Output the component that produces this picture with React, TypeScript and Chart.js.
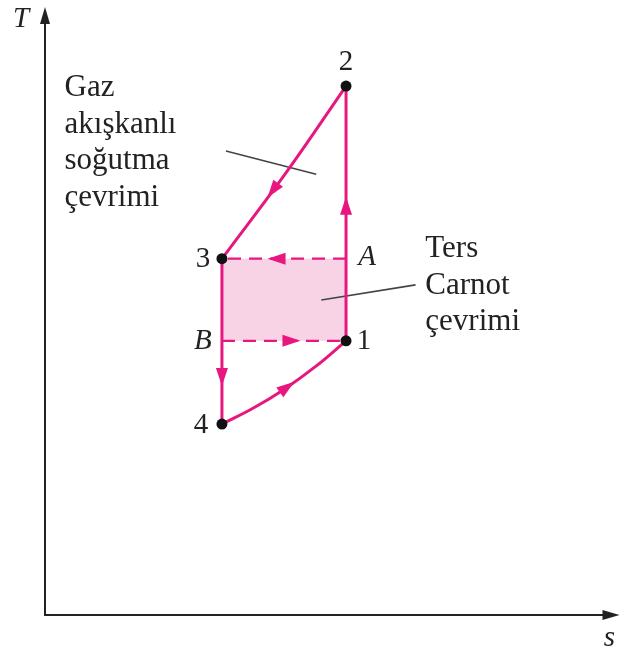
import React, { useEffect, useRef } from "react";
import { Chart, registerables } from "chart.js";

Chart.register(...registerables);

// ---- data (s: entropy, T: temperature, arbitrary units) ----
const stateLabels = ["1", "2", "3", "4"];
const stateS = [5.24, 5.24, 3.08, 3.08];
const stateT = [4.51, 8.7, 5.86, 3.14];

const cornerLabels = ["A", "B"];
const cornerS = [5.24, 3.08];
const cornerT = [5.86, 4.51];

// process 2 -> 3 (heat rejection, nearly straight)
const curve23S = [5.24, 4.2, 3.08];
const curve23T = [8.7, 7.28, 5.86];
// process 4 -> 1 (heat absorption, curved)
const curve41S = [3.08, 3.62, 4.16, 4.7, 5.24];
const curve41T = [3.14, 3.4, 3.71, 4.08, 4.51];

// arrow position along each process (fraction of path)
const arrowFractions = { p12: 0.53, p23: 0.6, p34: 0.715, p41: 0.5, pA3: 0.56, pB1: 0.56 };

// annotation texts
const gasText = ["Gaz", "akışkanlı", "soğutma", "çevrimi"];
const gasTextS = 0.34;
const gasTextT = 8.53;
const carnotText = ["Ters", "Carnot", "çevrimi"];
const carnotTextS = 6.62;
const carnotTextT = 5.88;

// leader lines
const gasLeaderS = [3.15, 4.72];
const gasLeaderT = [7.63, 7.25];
const carnotLeaderS = [4.81, 6.45];
const carnotLeaderT = [5.18, 5.43];

const MAG = "#e8177f";
const PINK = "#f8d3e5";
const INK = "#222222";
const SERIF = "'Liberation Serif', 'DejaVu Serif', serif";

const zip = (xs: number[], ys: number[]) => xs.map((x, i) => ({ x, y: ys[i] }));

const arrowPlugin = {
  id: "arrows",
  afterDatasetsDraw(chart: any) {
    const ctx = chart.ctx;
    chart.data.datasets.forEach((ds: any, i: number) => {
      if (ds.arrowAt == null) return;
      const meta = chart.getDatasetMeta(i);
      const pts = meta.data.map((e: any) => ({ x: e.x, y: e.y }));
      let total = 0;
      const lens: number[] = [];
      for (let k = 1; k < pts.length; k++) {
        const l = Math.hypot(pts[k].x - pts[k - 1].x, pts[k].y - pts[k - 1].y);
        lens.push(l);
        total += l;
      }
      let target = total * ds.arrowAt;
      let k = 0;
      while (k < lens.length - 1 && target > lens[k]) {
        target -= lens[k];
        k++;
      }
      const a = pts[k], b = pts[k + 1];
      const f = lens[k] ? target / lens[k] : 0;
      const px = a.x + (b.x - a.x) * f;
      const py = a.y + (b.y - a.y) * f;
      const dx = (b.x - a.x) / (lens[k] || 1);
      const dy = (b.y - a.y) / (lens[k] || 1);
      const L = 18, W = 12;
      ctx.save();
      ctx.fillStyle = MAG;
      ctx.beginPath();
      ctx.moveTo(px + dx * L / 2, py + dy * L / 2);
      ctx.lineTo(px - dx * L / 2 - dy * W / 2, py - dy * L / 2 + dx * W / 2);
      ctx.lineTo(px - dx * L / 2 + dy * W / 2, py - dy * L / 2 - dx * W / 2);
      ctx.closePath();
      ctx.fill();
      ctx.restore();
    });
  },
};

const axesPlugin = {
  id: "axesDraw",
  afterDatasetsDraw(chart: any) {
    const ctx = chart.ctx;
    const xs = chart.scales.x, ys = chart.scales.y;
    const x0 = xs.getPixelForValue(xs.min);
    const x1 = xs.getPixelForValue(xs.max);
    const y0 = ys.getPixelForValue(ys.min);
    const y1 = ys.getPixelForValue(ys.max);
    ctx.save();
    ctx.strokeStyle = INK;
    ctx.fillStyle = INK;
    ctx.lineWidth = 2;
    ctx.beginPath();
    ctx.moveTo(x0, y1 + 12);
    ctx.lineTo(x0, y0);
    ctx.lineTo(x1 - 12, y0);
    ctx.stroke();
    // arrow heads
    ctx.beginPath();
    ctx.moveTo(x0, y1);
    ctx.lineTo(x0 - 5, y1 + 17);
    ctx.lineTo(x0 + 5, y1 + 17);
    ctx.closePath();
    ctx.fill();
    ctx.beginPath();
    ctx.moveTo(x1, y0);
    ctx.lineTo(x1 - 17, y0 - 5);
    ctx.lineTo(x1 - 17, y0 + 5);
    ctx.closePath();
    ctx.fill();
    // axis titles
    ctx.font = `italic 29px ${SERIF}`;
    ctx.textAlign = "center";
    ctx.textBaseline = "middle";
    ctx.fillText("T", x0 - 24, y1 + 12);
    ctx.fillText("s", x1 - 10, y0 + 23);
    ctx.restore();
  },
};

const textPlugin = {
  id: "texts",
  afterDatasetsDraw(chart: any) {
    const ctx = chart.ctx;
    const xs = chart.scales.x, ys = chart.scales.y;
    ctx.save();
    ctx.fillStyle = INK;
    ctx.textBaseline = "alphabetic";
    ctx.textAlign = "left";
    ctx.font = `31px ${SERIF}`;
    const lh = 36.5;
    gasText.forEach((t, i) => {
      ctx.fillText(t, xs.getPixelForValue(gasTextS), ys.getPixelForValue(gasTextT) + i * lh);
    });
    carnotText.forEach((t, i) => {
      ctx.fillText(t, xs.getPixelForValue(carnotTextS), ys.getPixelForValue(carnotTextT) + i * lh);
    });
    // state labels
    ctx.textBaseline = "middle";
    const offs: Record<string, [number, number]> = {
      "1": [18, 1],
      "2": [0, -24],
      "3": [-19, 1],
      "4": [-21, 1],
    };
    ctx.font = `29px ${SERIF}`;
    ctx.textAlign = "center";
    stateLabels.forEach((lab, i) => {
      const px = xs.getPixelForValue(stateS[i]);
      const py = ys.getPixelForValue(stateT[i]);
      const o = offs[lab];
      ctx.fillText(lab, px + o[0], py + o[1]);
    });
    ctx.font = `italic 29px ${SERIF}`;
    const coffs: Record<string, [number, number]> = { A: [21, -1], B: [-19, 1] };
    cornerLabels.forEach((lab, i) => {
      const px = xs.getPixelForValue(cornerS[i]);
      const py = ys.getPixelForValue(cornerT[i]);
      ctx.fillText(lab, px + coffs[lab][0], py + coffs[lab][1]);
    });
    ctx.restore();
  },
};

export default function App() {
  const ref = useRef<HTMLCanvasElement>(null);
  useEffect(() => {
    document.body.style.margin = "0";
    const canvas = ref.current!;
    const line = (data: any[], extra: any = {}) => ({
      data,
      borderColor: MAG,
      borderWidth: 3,
      pointRadius: 0,
      fill: false,
      tension: 0,
      ...extra,
    });
    const chart = new Chart(canvas, {
      type: "line",
      data: {
        datasets: [
          // Carnot rectangle fill
          {
            data: [
              { x: cornerS[1], y: stateT[2] },
              { x: cornerS[0], y: cornerT[0] },
              { x: stateS[0], y: stateT[0] },
              { x: cornerS[1], y: cornerT[1] },
              { x: cornerS[1], y: stateT[2] },
            ],
            borderWidth: 0,
            borderColor: "rgba(0,0,0,0)",
            backgroundColor: PINK,
            pointRadius: 0,
            fill: "shape",
            tension: 0,
            order: 10,
          },
          line([{ x: stateS[0], y: stateT[0] }, { x: stateS[1], y: stateT[1] }], { arrowAt: arrowFractions.p12 }),
          line(zip(curve23S, curve23T), { tension: 0.4, arrowAt: arrowFractions.p23 }),
          line([{ x: stateS[2], y: stateT[2] }, { x: stateS[3], y: stateT[3] }], { arrowAt: arrowFractions.p34 }),
          line(zip(curve41S, curve41T), { tension: 0.4, arrowAt: arrowFractions.p41 }),
          line([{ x: cornerS[0], y: cornerT[0] }, { x: stateS[2], y: stateT[2] }], {
            borderWidth: 2.2,
            borderDash: [13, 8],
            arrowAt: arrowFractions.pA3,
          }),
          line([{ x: cornerS[1], y: cornerT[1] }, { x: stateS[0], y: stateT[0] }], {
            borderWidth: 2.2,
            borderDash: [13, 8],
            arrowAt: arrowFractions.pB1,
          }),
          line(zip(gasLeaderS, gasLeaderT), { borderColor: "#444", borderWidth: 1.6 }),
          line(zip(carnotLeaderS, carnotLeaderT), { borderColor: "#444", borderWidth: 1.6 }),
          {
            data: zip(stateS, stateT),
            showLine: false,
            pointRadius: 5.5,
            pointBackgroundColor: "#111",
            pointBorderWidth: 0,
            borderColor: "#111",
            order: -1,
          },
        ],
      },
      options: {
        animation: false,
        responsive: false,
        events: [],
        layout: { padding: { left: 45, right: 1, top: 7, bottom: 34 } },
        scales: {
          x: { type: "linear", min: 0, max: 10, display: false },
          y: { type: "linear", min: 0, max: 10, display: false },
        },
        plugins: {
          legend: { display: false },
          tooltip: { enabled: false },
          filler: { drawTime: "beforeDatasetsDraw" },
        } as any,
      },
      plugins: [axesPlugin, arrowPlugin, textPlugin],
    } as any);
    return () => chart.destroy();
  }, []);
  return <canvas ref={ref} width={625} height={649} style={{ display: "block" }} />;
}
